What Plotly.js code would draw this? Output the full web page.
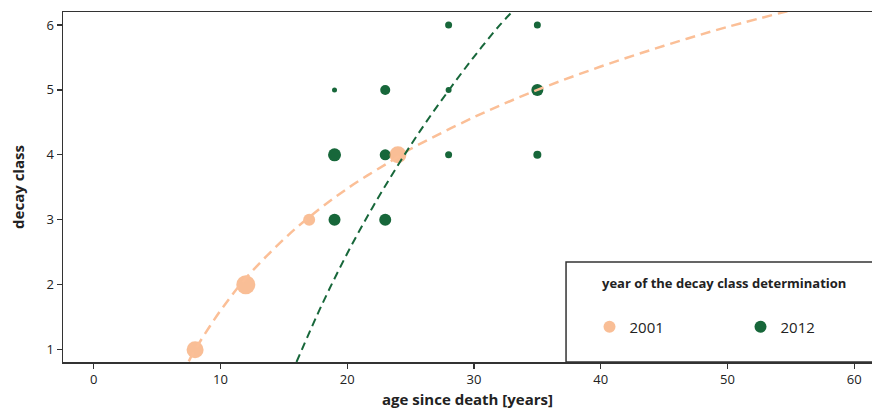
<!DOCTYPE html>
<html>
<head>
<meta charset="utf-8">
<script src="https://cdn.plot.ly/plotly-3.0.1.min.js"></script>
<style>html,body{margin:0;padding:0;background:#fff;}#chart{width:872px;height:409px;}</style>
</head>
<body>
<div id="chart"></div>
<script>
// 2001 observations
var age2001 = [8, 12, 17, 24];
var class2001 = [1, 2, 3, 4];
var size2001 = [17, 19, 12, 17];
// 2012 observations
var age2012 = [19, 23, 19, 23, 28, 35, 19, 23, 28, 35, 28, 35];
var class2012 = [3, 3, 4, 4, 4, 4, 5, 5, 5, 5, 6, 6];
var size2012 = [12, 12, 13, 11, 7, 8, 5, 10, 6, 12, 7, 7];
// fitted curves
var fitAge2001 = [7.5, 8, 10, 12, 15, 17, 20, 24, 25, 30, 35, 40, 45, 50, 55.5];
var fitClass2001 = [0.82, 1.00, 1.60, 2.10, 2.70, 3.04, 3.48, 3.97, 4.09, 4.58, 5.00, 5.36, 5.68, 5.97, 6.25];
var fitAge2012 = [16, 18, 20, 22, 24, 26, 28, 30, 32, 33.1];
var fitClass2012 = [0.81, 1.69, 2.48, 3.19, 3.84, 4.44, 4.99, 5.51, 5.99, 6.22];
var xTicks = [0, 10, 20, 30, 40, 50, 60];
var yTicks = [1, 2, 3, 4, 5, 6];
var legendTitle = 'year of the decay class determination';

var orange = '#F7A26A';
var green = '#17673A';
var fontFam = '"Open Sans", "DejaVu Sans", sans-serif';

var traces = [
  {x: age2012, y: class2012, type: 'scatter', mode: 'markers', name: '2012',
   marker: {color: green, size: size2012, opacity: 1, line: {width: 0}}},
  {x: age2001, y: class2001, type: 'scatter', mode: 'markers', name: '2001',
   marker: {color: orange, size: size2001, opacity: 0.7, line: {width: 0}}},
  {x: fitAge2001, y: fitClass2001, type: 'scatter', mode: 'lines', showlegend: false,
   line: {color: '#FBBF97', width: 2.5, dash: '10px,6px', shape: 'spline'}},
  {x: fitAge2012, y: fitClass2012, type: 'scatter', mode: 'lines', showlegend: false,
   line: {color: green, width: 2, dash: '8px,5px', shape: 'spline'}}
];

var layout = {
  width: 872, height: 409,
  margin: {l: 63, r: 0, t: 12, b: 47, autoexpand: false},
  paper_bgcolor: '#fff', plot_bgcolor: '#fff',
  font: {family: fontFam, size: 13, color: '#222'},
  showlegend: true,
  xaxis: {
    range: [-2.42, 61.4], tickvals: xTicks, ticks: 'outside', ticklen: 5, tickwidth: 1.2,
    tickcolor: '#333', showline: true, linecolor: '#333', linewidth: 1.5, mirror: true,
    showgrid: false, zeroline: false, tickfont: {size: 13}, automargin: false,
    title: {text: '<b>age since death [years]</b>', font: {size: 15}, standoff: 8}
  },
  yaxis: {
    range: [0.81, 6.2], tickvals: yTicks, ticks: 'outside', ticklen: 5, tickwidth: 1.2,
    tickcolor: '#333', showline: true, linecolor: '#333', linewidth: 1.5, mirror: false,
    showgrid: false, zeroline: false, tickfont: {size: 13}, automargin: false,
    title: {text: '<b>decay class</b>', font: {size: 15}, standoff: 18}
  },
  legend: {
    x: 0.6508, y: 0.1, xanchor: 'left', yanchor: 'middle',
    orientation: 'h', bgcolor: 'rgba(0,0,0,0)', borderwidth: 0,
    itemsizing: 'constant', entrywidth: 106, entrywidthmode: 'pixels',
    font: {size: 15},
    traceorder: 'reversed'
  },
  annotations: [
    {xref: 'paper', yref: 'paper', x: 0.6638, y: 0.2257, xanchor: 'left', yanchor: 'middle',
     showarrow: false, text: '<b>' + legendTitle + '</b>', font: {size: 13, color: '#222'}}
  ],
  shapes: [
    {type: 'rect', xref: 'paper', yref: 'paper', x0: 0.6218, x1: 1.05, y0: 0, y1: 0.2857,
     line: {color: '#333', width: 1.5}, fillcolor: '#fff', layer: 'above'}
  ]
};

Plotly.newPlot('chart', traces, layout, {displayModeBar: false, staticPlot: true});
</script>
</body>
</html>
